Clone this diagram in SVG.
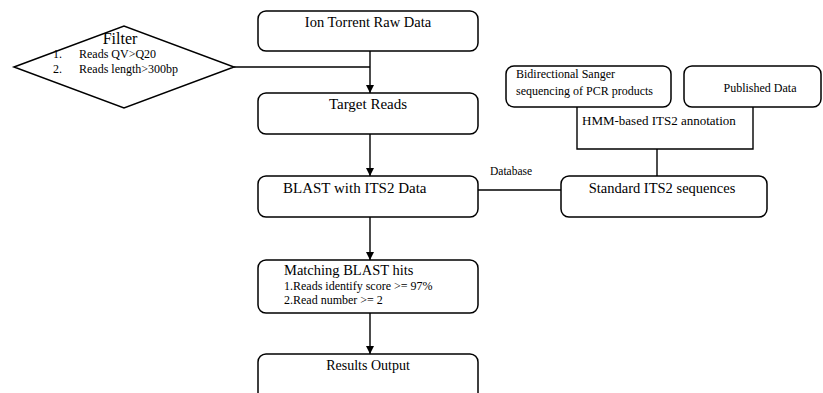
<svg xmlns="http://www.w3.org/2000/svg" width="823" height="393" viewBox="0 0 823 393">
<style>
.box{fill:#fff;stroke:#000;stroke-width:1.5}
.ln{fill:none;stroke:#000;stroke-width:1.4}
text{font-family:"Liberation Serif","Times New Roman",serif;fill:#000}
.t15{font-size:15px}
.t12{font-size:12px}
</style>
<defs>
<marker id="arr" viewBox="0 0 10 10" refX="10" refY="5" markerWidth="8" markerHeight="8" markerUnits="userSpaceOnUse" orient="auto">
<path d="M0,0 L10,5 L0,10 z" fill="#000"/>
</marker>
</defs>
<rect width="823" height="393" fill="#fff"/>
<g id="connectors">
<line class="ln" x1="234" y1="67" x2="370" y2="67"/>
<line class="ln" x1="370" y1="51" x2="370" y2="93" marker-end="url(#arr)"/>
<line class="ln" x1="370" y1="134" x2="370" y2="176" marker-end="url(#arr)"/>
<line class="ln" x1="370" y1="217" x2="370" y2="260" marker-end="url(#arr)"/>
<line class="ln" x1="370" y1="313" x2="370" y2="354" marker-end="url(#arr)"/>
<line class="ln" x1="478" y1="190" x2="561" y2="190"/>
<polyline class="ln" points="577,107 577,149 753,149 753,107"/>
<line class="ln" x1="657" y1="149" x2="657" y2="176"/>
<text x="490" y="175" style="font-size:11.5px">Database</text>
<text x="582" y="125" style="font-size:13px">HMM-based ITS2 annotation</text>
</g>
<g id="filter">
<polygon class="box" points="14,67 124,26 234,67 124,108"/>
<text x="120" y="44" text-anchor="middle" style="font-size:16px">Filter</text>
<text class="t12" x="53" y="58">1.</text>
<text class="t12" x="79" y="58">Reads QV&gt;Q20</text>
<text class="t12" x="53" y="73">2.</text>
<text class="t12" x="79" y="73">Reads length&gt;300bp</text>
</g>
<g id="raw">
<rect class="box" x="258" y="11" width="220" height="40" rx="8"/>
<text class="t15" x="368" y="27" text-anchor="middle" style="font-size:14.5px">Ion Torrent Raw Data</text>
</g>
<g id="target">
<rect class="box" x="258" y="93" width="220" height="41" rx="8"/>
<text class="t15" x="368" y="109" text-anchor="middle">Target Reads</text>
</g>
<g id="blast">
<rect class="box" x="258" y="176" width="220" height="41" rx="8"/>
<text class="t15" x="283" y="193">BLAST with ITS2 Data</text>
</g>
<g id="matching">
<rect class="box" x="258" y="260" width="220" height="53" rx="8"/>
<text x="284" y="275" style="font-size:14.5px">Matching BLAST hits</text>
<text class="t12" x="284" y="290">1.Reads identify score &gt;= 97%</text>
<text class="t12" x="284" y="304">2.Read number &gt;= 2</text>
</g>
<g id="results">
<rect class="box" x="258" y="354" width="220" height="60" rx="8"/>
<text x="368" y="370" text-anchor="middle" style="font-size:14px">Results Output</text>
</g>
<g id="sanger">
<rect class="box" x="506" y="66" width="165" height="41" rx="8"/>
<text class="t12" x="516" y="78">Bidirectional Sanger</text>
<text class="t12" x="516" y="95">sequencing of PCR products</text>
</g>
<g id="published">
<rect class="box" x="684" y="66" width="137" height="41" rx="8"/>
<text class="t12" x="760" y="92" text-anchor="middle">Published Data</text>
</g>
<g id="standard">
<rect class="box" x="561" y="176" width="206" height="41" rx="8"/>
<text x="662" y="193" text-anchor="middle" style="font-size:14.5px">Standard ITS2 sequences</text>
</g>
</svg>
